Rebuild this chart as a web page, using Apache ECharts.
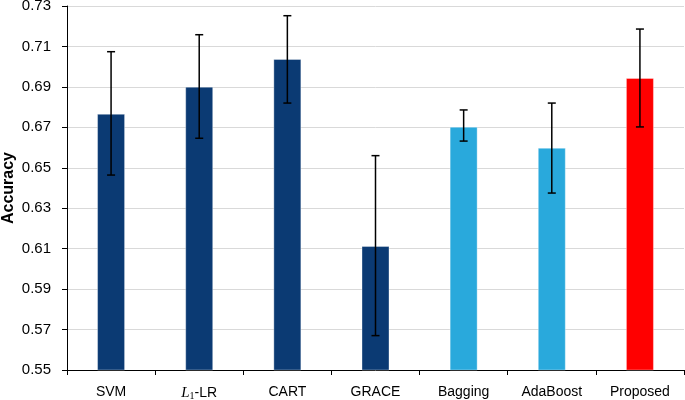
<!DOCTYPE html>
<html>
<head>
<meta charset="utf-8">
<script src="https://cdn.jsdelivr.net/npm/echarts@6/dist/echarts.min.js"></script>
<style>
html,body{margin:0;padding:0;background:#fff;}
#chart{width:685px;height:400px;}
</style>
</head>
<body>
<div id="chart"></div>
<script>
var categories = ['SVM', 'L1-LR', 'CART', 'GRACE', 'Bagging', 'AdaBoost', 'Proposed'];
var accuracy = [0.6767, 0.6901, 0.7038, 0.6113, 0.6703, 0.6599, 0.6944];
var errLow = [0.6464, 0.6646, 0.6820, 0.5670, 0.6632, 0.6375, 0.6702];
var errHigh = [0.7074, 0.7158, 0.7252, 0.6560, 0.6786, 0.6820, 0.7186];
var barColors = ['#0b3a73', '#0b3a73', '#0b3a73', '#0b3a73', '#29a9dc', '#29a9dc', '#ff0000'];
var yTicks = [0.55, 0.57, 0.59, 0.61, 0.63, 0.65, 0.67, 0.69, 0.71, 0.73];

var chart = echarts.init(document.getElementById('chart'), null, {renderer: 'canvas'});
var font = 'Liberation Sans, Arial, sans-serif';

var option = {
  animation: false,
  backgroundColor: '#ffffff',
  grid: {left: 67, right: 1, top: 6, bottom: 30, containLabel: false, outerBoundsMode: 'none'},
  xAxis: {
    type: 'category',
    data: categories,
    axisLine: {lineStyle: {color: '#000', width: 1}},
    axisTick: {show: true, alignWithLabel: false, length: 5, lineStyle: {color: '#000', width: 1}},
    axisLabel: {
      interval: 0,
      margin: 15,
      fontFamily: font,
      fontSize: 14,
      color: '#000',
      formatter: function (v) {
        if (v === 'L1-LR') return '{it|L}{sub|1}{n|-LR}';
        return v;
      },
      rich: {
        it: {fontFamily: 'Liberation Serif, DejaVu Serif, serif', fontStyle: 'italic', fontSize: 15, color: '#000'},
        sub: {fontFamily: 'Liberation Serif, DejaVu Serif, serif', fontSize: 10, color: '#000', padding: [6, 0, 0, 0]},
        n: {fontFamily: font, fontSize: 14, color: '#000'}
      }
    }
  },
  yAxis: {
    type: 'value',
    min: yTicks[0],
    max: yTicks[yTicks.length - 1],
    interval: 0.02,
    name: 'Accuracy',
    nameLocation: 'middle',
    nameGap: 50,
    nameRotate: 90,
    nameMoveOverlap: false,
    nameTextStyle: {fontFamily: font, fontSize: 16, fontWeight: 'bold', color: '#000'},
    axisLine: {show: true, lineStyle: {color: '#000', width: 1}},
    axisTick: {show: true, length: 5, lineStyle: {color: '#000', width: 1}},
    axisLabel: {
      margin: 16,
      fontFamily: font,
      fontSize: 15,
      color: '#000',
      formatter: function (v) { return v.toFixed(2); }
    },
    splitLine: {show: true, lineStyle: {color: '#d9d9d9', width: 1}}
  },
  series: [
    {
      type: 'bar',
      barWidth: 28,
      data: accuracy.map(function (v, i) {
        return {value: v, itemStyle: {color: barColors[i]}};
      }),
      itemStyle: {borderColor: 'rgba(255,255,255,0.35)', borderWidth: 1},
      z: 2
    },
    {
      type: 'custom',
      z: 5,
      data: categories.map(function (c, i) { return [i, errLow[i], errHigh[i]]; }),
      encode: {x: 0, y: [1, 2]},
      renderItem: function (params, api) {
        var lo = api.coord([api.value(0), api.value(1)]);
        var hi = api.coord([api.value(0), api.value(2)]);
        var half = 4;
        var style = {stroke: '#000', lineWidth: 1.5};
        return {
          type: 'group',
          children: [
            {type: 'line', shape: {x1: lo[0], y1: lo[1], x2: hi[0], y2: hi[1]}, style: style},
            {type: 'line', shape: {x1: lo[0] - half, y1: lo[1], x2: lo[0] + half, y2: lo[1]}, style: style},
            {type: 'line', shape: {x1: hi[0] - half, y1: hi[1], x2: hi[0] + half, y2: hi[1]}, style: style}
          ]
        };
      }
    }
  ]
};
chart.setOption(option);
</script>
</body>
</html>
